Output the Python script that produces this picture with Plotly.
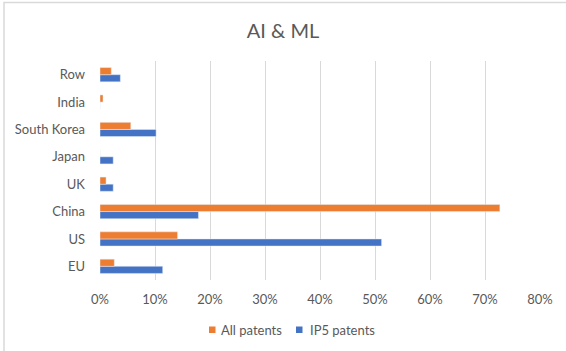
import plotly.graph_objects as go

categories = ["EU", "US", "China", "UK", "Japan", "South Korea", "India", "Row"]
all_patents = [2.6, 14.1, 72.7, 1.1, 0.0, 5.6, 0.55, 2.05]
ip5_patents = [11.4, 51.2, 17.9, 2.4, 2.4, 10.2, 0.0, 3.7]
series_names = ["All patents", "IP5 patents"]
series_colors = ["#ED7D31", "#4472C4"]
x_ticks = [0, 10, 20, 30, 40, 50, 60, 70, 80]
x_tick_labels = [f"{v}%" for v in x_ticks]

FONT = "Lato, Carlito, Calibri, sans-serif"
GREY = "#595959"

# plot area in pixels: x 100..540, y 61..280
L, R, T, B = 100, 540, 61, 280
W, H = R - L, B - T


def px(x):
    return (x - L) / W


def py(y):
    return (B - y) / H


fig = go.Figure()
fig.add_trace(go.Bar(y=categories, x=ip5_patents, orientation="h", name=series_names[1],
                     marker=dict(color=series_colors[1]), showlegend=False))
fig.add_trace(go.Bar(y=categories, x=all_patents, orientation="h", name=series_names[0],
                     marker=dict(color=series_colors[0]), showlegend=False))

shapes = [dict(type="rect", xref="paper", yref="paper",
               x0=px(4), x1=px(600), y0=py(400), y1=py(2.5),
               line=dict(color="#d9d9d9", width=1.5), fillcolor="rgba(0,0,0,0)",
               layer="below")]
annotations = []
legend_sq_x = [209, 296]
legend_txt_x = [219, 308]
for name, col, sx, tx in zip(series_names, series_colors, legend_sq_x, legend_txt_x):
    shapes.append(dict(type="rect", xref="paper", yref="paper",
                       x0=px(sx), x1=px(sx + 6.5), y0=py(333), y1=py(326.5),
                       line=dict(width=0), fillcolor=col))
    annotations.append(dict(text=name, xref="paper", yref="paper", x=px(tx), y=py(330),
                            xanchor="left", yanchor="middle", showarrow=False,
                            font=dict(family=FONT, size=13, color=GREY)))

fig.update_layout(
    width=566, height=351,
    margin=dict(l=L, r=566 - R, t=T, b=351 - B),
    paper_bgcolor="white", plot_bgcolor="white",
    barmode="group", bargap=0.48, bargroupgap=0,
    showlegend=False,
    font=dict(family=FONT, size=13, color=GREY),
    title=dict(text="AI & ML", x=0.5, xref="container", xanchor="center",
               y=1 - 31 / 351, yref="container", yanchor="middle",
               font=dict(family=FONT, size=20, color=GREY)),
    xaxis=dict(range=[0, 80], tickvals=x_ticks, ticktext=x_tick_labels,
               showgrid=True, gridcolor="#d9d9d9", gridwidth=1,
               zeroline=False, showline=False, ticks="", ticklabelstandoff=10,
               tickfont=dict(size=13, color=GREY), fixedrange=True),
    yaxis=dict(showgrid=False, zeroline=False, showline=False, ticks="",
               ticklabelstandoff=14, tickfont=dict(size=13, color=GREY)),
    shapes=shapes,
    annotations=annotations,
)

fig.write_html("out.html", config={"displayModeBar": False},
               post_script="document.body.style.margin='0px';document.body.style.overflow='hidden';")
